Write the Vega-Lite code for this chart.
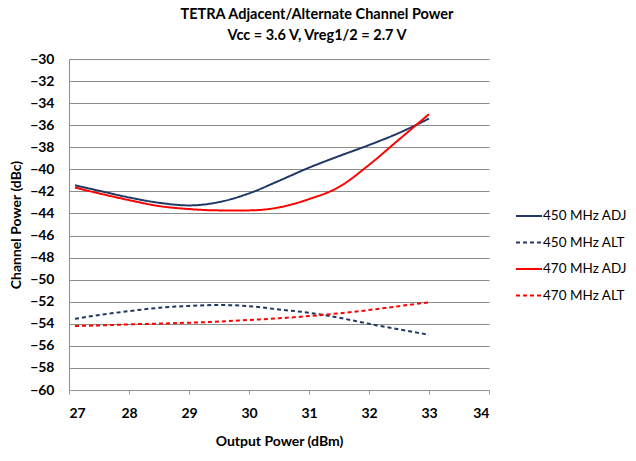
{
  "$schema": "https://vega.github.io/schema/vega-lite/v6.json",
  "autosize": {"type": "none"},
  "width": 420,
  "height": 331,
  "padding": {"left": 69, "top": 59, "right": 147, "bottom": 71},
  "background": "white",
  "title": {
    "text": ["TETRA Adjacent/Alternate Channel Power", "Vcc = 3.6 V, Vreg1/2 = 2.7 V"],
    "font": "Lato",
    "fontSize": 14.5,
    "fontWeight": "bold",
    "color": "#000000",
    "lineHeight": 21.6,
    "anchor": "middle",
    "dx": 38,
    "offset": 8
  },
  "config": {
    "view": {"stroke": null},
    "font": "Lato"
  },
  "data": {
    "values": [
      {"p": 27.1, "v": -41.45, "s": "450 MHz ADJ"},
      {"p": 27.5, "v": -41.94, "s": "450 MHz ADJ"},
      {"p": 28.0, "v": -42.55, "s": "450 MHz ADJ"},
      {"p": 28.5, "v": -43.03, "s": "450 MHz ADJ"},
      {"p": 29.0, "v": -43.27, "s": "450 MHz ADJ"},
      {"p": 29.5, "v": -42.97, "s": "450 MHz ADJ"},
      {"p": 30.0, "v": -42.18, "s": "450 MHz ADJ"},
      {"p": 30.5, "v": -41.04, "s": "450 MHz ADJ"},
      {"p": 31.0, "v": -39.85, "s": "450 MHz ADJ"},
      {"p": 31.5, "v": -38.8, "s": "450 MHz ADJ"},
      {"p": 32.0, "v": -37.8, "s": "450 MHz ADJ"},
      {"p": 32.5, "v": -36.7, "s": "450 MHz ADJ"},
      {"p": 33.0, "v": -35.4, "s": "450 MHz ADJ"},
      {"p": 27.1, "v": -53.55, "s": "450 MHz ALT"},
      {"p": 27.5, "v": -53.2, "s": "450 MHz ALT"},
      {"p": 28.0, "v": -52.85, "s": "450 MHz ALT"},
      {"p": 28.5, "v": -52.55, "s": "450 MHz ALT"},
      {"p": 29.0, "v": -52.38, "s": "450 MHz ALT"},
      {"p": 29.5, "v": -52.3, "s": "450 MHz ALT"},
      {"p": 30.0, "v": -52.4, "s": "450 MHz ALT"},
      {"p": 30.5, "v": -52.7, "s": "450 MHz ALT"},
      {"p": 31.0, "v": -53.0, "s": "450 MHz ALT"},
      {"p": 31.5, "v": -53.45, "s": "450 MHz ALT"},
      {"p": 32.0, "v": -54.0, "s": "450 MHz ALT"},
      {"p": 32.5, "v": -54.5, "s": "450 MHz ALT"},
      {"p": 33.0, "v": -55.0, "s": "450 MHz ALT"},
      {"p": 27.1, "v": -41.65, "s": "470 MHz ADJ"},
      {"p": 27.5, "v": -42.18, "s": "470 MHz ADJ"},
      {"p": 28.0, "v": -42.79, "s": "470 MHz ADJ"},
      {"p": 28.5, "v": -43.33, "s": "470 MHz ADJ"},
      {"p": 29.0, "v": -43.6, "s": "470 MHz ADJ"},
      {"p": 29.5, "v": -43.72, "s": "470 MHz ADJ"},
      {"p": 30.0, "v": -43.72, "s": "470 MHz ADJ"},
      {"p": 30.5, "v": -43.45, "s": "470 MHz ADJ"},
      {"p": 31.0, "v": -42.7, "s": "470 MHz ADJ"},
      {"p": 31.5, "v": -41.6, "s": "470 MHz ADJ"},
      {"p": 32.0, "v": -39.6, "s": "470 MHz ADJ"},
      {"p": 32.5, "v": -37.3, "s": "470 MHz ADJ"},
      {"p": 33.0, "v": -35.0, "s": "470 MHz ADJ"},
      {"p": 27.1, "v": -54.2, "s": "470 MHz ALT"},
      {"p": 27.5, "v": -54.15, "s": "470 MHz ALT"},
      {"p": 28.0, "v": -54.05, "s": "470 MHz ALT"},
      {"p": 28.5, "v": -53.98, "s": "470 MHz ALT"},
      {"p": 29.0, "v": -53.9, "s": "470 MHz ALT"},
      {"p": 29.5, "v": -53.8, "s": "470 MHz ALT"},
      {"p": 30.0, "v": -53.65, "s": "470 MHz ALT"},
      {"p": 30.5, "v": -53.5, "s": "470 MHz ALT"},
      {"p": 31.0, "v": -53.3, "s": "470 MHz ALT"},
      {"p": 31.5, "v": -53.05, "s": "470 MHz ALT"},
      {"p": 32.0, "v": -52.75, "s": "470 MHz ALT"},
      {"p": 32.5, "v": -52.4, "s": "470 MHz ALT"},
      {"p": 33.0, "v": -52.05, "s": "470 MHz ALT"}
    ]
  },
  "mark": {"type": "line", "interpolate": "monotone", "strokeWidth": 2},
  "encoding": {
    "x": {
      "field": "p",
      "type": "quantitative",
      "scale": {"domain": [27, 34], "nice": false, "zero": false},
      "axis": {
        "title": "Output Power (dBm)",
        "values": [27, 28, 29, 30, 31, 32, 33, 34],
        "format": "d",
        "grid": false,
        "domainColor": "#9a9a9a",
        "domainDash": [2, 2],
        "domainWidth": 1,
        "tickColor": "#9a9a9a",
        "tickSize": 4,
        "labelFont": "Lato",
        "labelFontSize": 14,
        "labelFontWeight": "bold",
        "labelColor": "#000000",
        "labelPadding": 12,
        "titleFont": "Lato",
        "titleFontSize": 14,
        "titleFontWeight": "bold",
        "titleColor": "#000000",
        "titlePadding": 14
      }
    },
    "y": {
      "field": "v",
      "type": "quantitative",
      "scale": {"domain": [-60, -30], "nice": false, "zero": false},
      "axis": {
        "title": "Channel Power (dBc)",
        "values": [-60, -58, -56, -54, -52, -50, -48, -46, -44, -42, -40, -38, -36, -34, -32, -30],
        "grid": true,
        "gridColor": "#8c8c8c",
        "gridWidth": 1,
        "domainColor": "#8c8c8c",
        "domainWidth": 1,
        "ticks": false,
        "labelFont": "Lato",
        "labelFontSize": 14,
        "labelFontWeight": "bold",
        "labelColor": "#000000",
        "labelPadding": 15,
        "titleFont": "Lato",
        "titleFontSize": 14,
        "titleFontWeight": "bold",
        "titleColor": "#000000",
        "titlePadding": 6
      }
    },
    "color": {
      "field": "s",
      "type": "nominal",
      "scale": {
        "domain": ["450 MHz ADJ", "450 MHz ALT", "470 MHz ADJ", "470 MHz ALT"],
        "range": ["#1F3864", "#1F3864", "#FF0000", "#FF0000"]
      },
      "legend": {
        "title": null,
        "orient": "none",
        "legendX": 446,
        "legendY": 143,
        "symbolType": "stroke",
        "symbolSize": 676,
        "symbolStrokeWidth": 2,
        "labelFont": "Lato",
        "labelFontSize": 13.5,
        "labelColor": "#000000",
        "labelOffset": 0,
        "rowPadding": 5.5,
        "padding": 0
      }
    },
    "strokeDash": {
      "field": "s",
      "type": "nominal",
      "scale": {
        "domain": ["450 MHz ADJ", "450 MHz ALT", "470 MHz ADJ", "470 MHz ALT"],
        "range": [[1, 0], [4, 3], [1, 0], [4, 3]]
      },
      "legend": null
    }
  }
}
